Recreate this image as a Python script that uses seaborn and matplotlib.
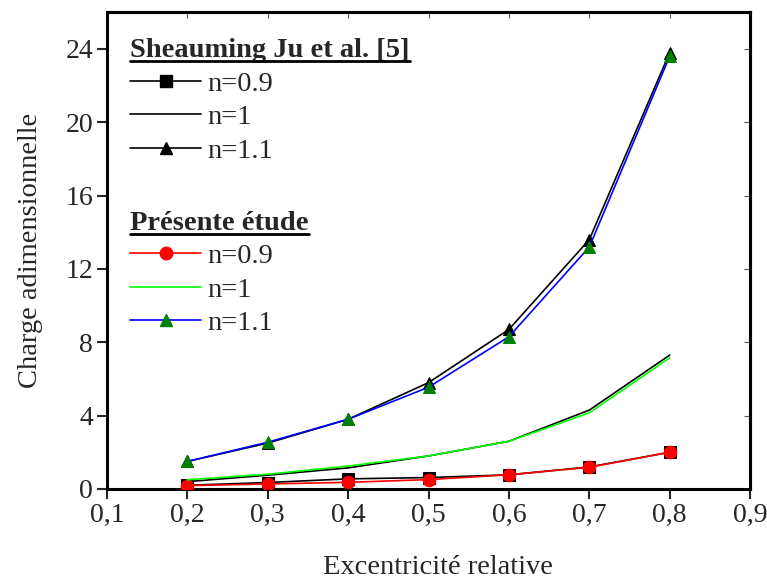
import matplotlib
matplotlib.use("Agg")
import matplotlib.pyplot as plt
from matplotlib.lines import Line2D
from matplotlib.ticker import FuncFormatter
import seaborn as sns
import pandas as pd

# ---- data ----
ecc = [0.2, 0.3, 0.4, 0.5, 0.6, 0.7, 0.8]
ju_n09 = [0.20, 0.35, 0.55, 0.62, 0.77, 1.20, 2.00]
ju_n1 = [0.40, 0.75, 1.15, 1.80, 2.60, 4.30, 7.30]
ju_n11 = [1.50, 2.50, 3.80, 5.80, 8.70, 13.60, 23.80]
pr_n09 = [0.18, 0.27, 0.36, 0.51, 0.77, 1.18, 2.00]
pr_n1 = [0.50, 0.80, 1.25, 1.80, 2.60, 4.15, 7.15]
pr_n11 = [1.50, 2.55, 3.80, 5.55, 8.30, 13.20, 23.60]
labels = ["n=0.9", "n=1", "n=1.1"]
xticks = [0.1, 0.2, 0.3, 0.4, 0.5, 0.6, 0.7, 0.8, 0.9]
yticks = [0, 4, 8, 12, 16, 20, 24]

sns.set_style("ticks")
plt.rcParams["font.family"] = ["Liberation Serif", "DejaVu Serif"]

fig = plt.figure(figsize=(7.67, 5.8), dpi=100)
ax = fig.add_axes([0.1395, 0.157, 0.8385, 0.822])

FS = 20.5
TFS = 20
LW = 1.2
MS = 9

styles = {
    "ju": [dict(color="black", marker="s", mfc="black", mec="black"),
           dict(color="black", marker=None, mfc="black", mec="black"),
           dict(color="black", marker="^", mfc="black", mec="black")],
    "pr": [dict(color="#ff0000", marker="o", mfc="#ff0000", mec="#ff0000"),
           dict(color="#00ff00", marker=None, mfc="#00ff00", mec="#00ff00"),
           dict(color="#0000ff", marker="^", mfc="#008000", mec="#008000")],
}

series = {"ju": [ju_n09, ju_n1, ju_n11], "pr": [pr_n09, pr_n1, pr_n11]}

for src in ["ju", "pr"]:
    for vals, st in zip(series[src], styles[src]):
        df = pd.DataFrame({"x": ecc, "y": vals})
        kw = dict(x="x", y="y", data=df, ax=ax, color=st["color"], linewidth=LW,
                  legend=False, zorder=3)
        if st["marker"] is not None:
            kw.update(marker=st["marker"], markersize=MS,
                      markerfacecolor=st["mfc"], markeredgecolor=st["mec"])
        sns.lineplot(**kw)

ax.set_xlim(0.1, 0.9)
ax.set_ylim(0, 26)
ax.set_xticks(xticks)
ax.set_yticks(yticks)
ax.xaxis.set_major_formatter(FuncFormatter(lambda v, p: f"{v:.1f}".replace(".", ",")))
ax.tick_params(axis="both", which="major", direction="out", length=7, width=1.5,
               labelsize=TFS, pad=3)
for s in ax.spines.values():
    s.set_linewidth(2.2)
    s.set_color("black")
ax.set_xlabel("Excentricité relative", fontsize=FS)
ax.set_ylabel("Charge adimensionnelle", fontsize=FS)
ax.xaxis.set_label_coords(0.515, -0.138)
ax.yaxis.set_label_coords(-0.099, 0.5)

# mirror ticks inside on top / right
secx = ax.secondary_xaxis("top")
secx.set_xticks(xticks)
secx.tick_params(direction="in", length=4, width=0.8, color="#555555", labeltop=False)
secx.spines["top"].set_linewidth(2.2)
secy = ax.secondary_yaxis("right")
secy.set_yticks(yticks)
secy.tick_params(direction="in", length=4, width=0.8, color="#555555", labelright=False)
secy.spines["right"].set_linewidth(2.2)

def make_handles(src):
    hs = []
    for st in styles[src]:
        hs.append(Line2D([], [], color=st["color"], lw=LW, marker=st["marker"] or "",
                         markersize=MS, markerfacecolor=st["mfc"], markeredgecolor=st["mec"]))
    return hs

common = dict(loc="upper left", frameon=False, fontsize=FS, handlelength=2.5,
              handletextpad=0.2, labelspacing=0.27, borderpad=0, borderaxespad=0,
              alignment="left",
              title_fontproperties={"weight": "bold", "size": FS})
leg1 = ax.legend(make_handles("ju"), labels, title="Sheauming Ju et al. [5]",
                 bbox_to_anchor=(0.036, 0.946), **common)
ax.add_artist(leg1)
leg2 = ax.legend(make_handles("pr"), labels, title="Présente étude",
                 bbox_to_anchor=(0.036, 0.584), **common)

fig.canvas.draw()
r = fig.canvas.get_renderer()
for leg in (leg1, leg2):
    bb = leg.get_title().get_window_extent(r)
    inv = fig.transFigure.inverted()
    (x0, y0), (x1, y1) = inv.transform([(bb.x0, bb.y0 + 1.5), (bb.x1, bb.y0 + 1.5)])
    fig.add_artist(Line2D([x0, x1], [y0, y0], transform=fig.transFigure,
                          color="black", lw=2.0))

fig.savefig("out.png", dpi=100)
